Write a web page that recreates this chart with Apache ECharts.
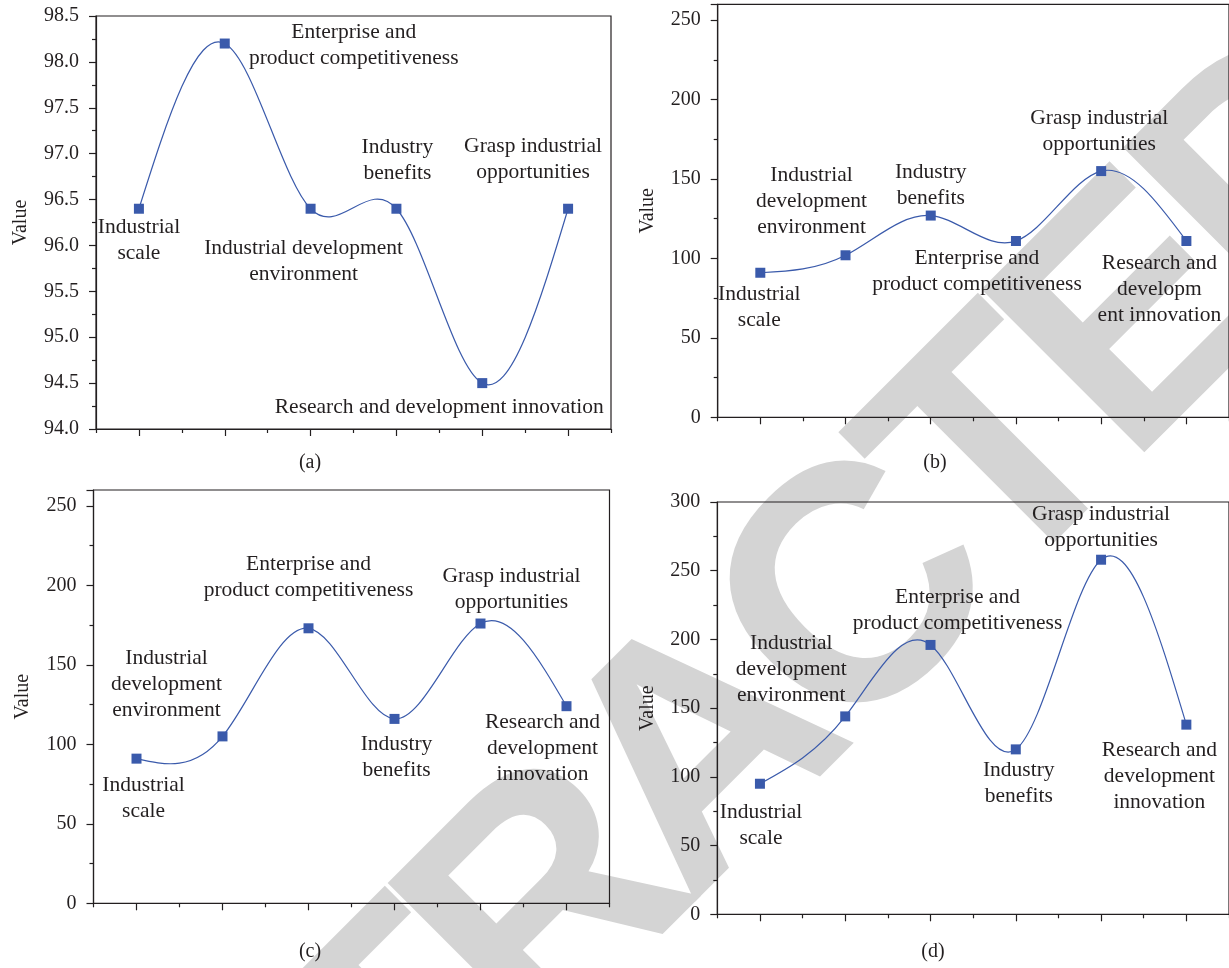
<!DOCTYPE html>
<html><head><meta charset="utf-8">
<script src="https://cdn.jsdelivr.net/npm/echarts@6/dist/echarts.min.js"></script>
<style>html,body{margin:0;padding:0;background:#fff}#c{width:1229px;height:968px}</style>
</head><body><div id="c"></div>
<script>
// ---------- data ----------
const catsA = ['Industrial scale','Enterprise and product competitiveness','Industrial development environment','Industry benefits','Research and development innovation','Grasp industrial opportunities'];
const valsA = [96.4, 98.2, 96.4, 96.4, 94.5, 96.4];
const textA = ['Industrial\nscale','Enterprise and\nproduct competitiveness','Industrial development\nenvironment','Industry\nbenefits','Research and development innovation','Grasp industrial\nopportunities'];
const yTicksA = [94.0, 94.5, 95.0, 95.5, 96.0, 96.5, 97.0, 97.5, 98.0, 98.5];

const catsB = ['Industrial scale','Industrial development environment','Industry benefits','Enterprise and product competitiveness','Grasp industrial opportunities','Research and development innovation'];
const valsB = [91, 102, 127, 111, 155, 111];
const textB = ['Industrial\nscale','Industrial\ndevelopment\nenvironment','Industry\nbenefits','Enterprise and\nproduct competitiveness','Grasp industrial\nopportunities','Research and\ndevelopm\nent innovation'];
const yTicksB = [0, 50, 100, 150, 200, 250];
const yMaxB = 260;

const catsC = ['Industrial scale','Industrial development environment','Enterprise and product competitiveness','Industry benefits','Grasp industrial opportunities','Research and development innovation'];
const valsC = [91, 105, 173, 116, 176, 124];
const textC = ['Industrial\nscale','Industrial\ndevelopment\nenvironment','Enterprise and\nproduct competitiveness','Industry\nbenefits','Grasp industrial\nopportunities','Research and\ndevelopment\ninnovation'];
const yTicksC = [0, 50, 100, 150, 200, 250];
const yMaxC = 260;

const catsD = ['Industrial scale','Industrial development environment','Enterprise and product competitiveness','Industry benefits','Grasp industrial opportunities','Research and development innovation'];
const valsD = [95, 144, 196, 120, 258, 138];
const textD = ['Industrial\nscale','Industrial\ndevelopment\nenvironment','Enterprise and\nproduct competitiveness','Industry\nbenefits','Grasp industrial\nopportunities','Research and\ndevelopment\ninnovation'];
const yTicksD = [0, 50, 100, 150, 200, 250, 300];

const captions = ['(a)', '(b)', '(c)', '(d)'];
const yName = 'Value';
const watermark = 'RETRACTED';

// ---------- styles / layout ----------
const INK = '#231f20';
const BLUE = '#3a5aab';
const SERIF = '"Liberation Serif", "Times New Roman", serif';

const panels = [
  { cats: catsA, vals: valsA, text: textA, ticks: yTicksA, max: yTicksA[yTicksA.length-1], dec: 1,
    grid: { left: 96, top: 16, width: 515, height: 413 }, nameGap: 65,
    offs: [[0,32],[129,2],[-7,53],[1,-48],[-43,24],[-35,-49]] },
  { cats: catsB, vals: valsB, text: textB, ticks: yTicksB, max: yMaxB, dec: 0,
    grid: { left: 717.7, top: 4.3, width: 515, height: 413 }, nameGap: 60,
    offs: [[-1,35],[-34,-54],[0,-30],[-39,30],[-2,-40],[-27,48]] },
  { cats: catsC, vals: valsC, text: textC, ticks: yTicksC, max: yMaxC, dec: 0,
    grid: { left: 93.5, top: 490, width: 516, height: 413.3 }, nameGap: 60.5,
    offs: [[7,40],[-56,-52],[0,-51],[2,38],[31,-34],[-24,42]] },
  { cats: catsD, vals: valsD, text: textD, ticks: yTicksD, max: yTicksD[yTicksD.length-1], dec: 0,
    grid: { left: 717.3, top: 502, width: 514, height: 412.3 }, nameGap: 60,
    offs: [[1,42],[-54,-47],[27,-35],[3,34],[0,-32],[-27,52]] }
];
const captionPos = [[310, 463], [935, 463], [310, 952], [933, 952]];

function splineRender(vals) {
  return function (params, api) {
    if (params.dataIndexInside !== 0) return null;
    const pts = vals.map((v, i) => api.coord([i, v]));
    const n = pts.length - 1;
    const h = pts[1][0] - pts[0][0];
    const M = new Array(n + 1).fill(0);
    const a = [], b = [], c = [], d = [];
    for (let i = 1; i < n; i++) {
      a.push(1); b.push(4); c.push(1);
      d.push(6 * (pts[i-1][1] - 2 * pts[i][1] + pts[i+1][1]) / (h * h));
    }
    const m = b.length;
    for (let i = 1; i < m; i++) { const w = a[i] / b[i-1]; b[i] -= w * c[i-1]; d[i] -= w * d[i-1]; }
    const sol = new Array(m);
    sol[m-1] = d[m-1] / b[m-1];
    for (let i = m - 2; i >= 0; i--) sol[i] = (d[i] - c[i] * sol[i+1]) / b[i];
    for (let i = 1; i < n; i++) M[i] = sol[i-1];
    let path = 'M' + pts[0][0] + ' ' + pts[0][1];
    for (let i = 0; i < n; i++) {
      const y0 = pts[i][1], y1 = pts[i+1][1];
      const m0 = (y1 - y0) / h - h * (2 * M[i] + M[i+1]) / 6;
      const m1 = (y1 - y0) / h + h * (M[i] + 2 * M[i+1]) / 6;
      path += ' C' + (pts[i][0] + h/3) + ' ' + (y0 + m0 * h/3) + ' ' +
              (pts[i+1][0] - h/3) + ' ' + (y1 - m1 * h/3) + ' ' + pts[i+1][0] + ' ' + y1;
    }
    return { type: 'path', silent: true, shape: { pathData: path },
             style: { fill: 'none', stroke: BLUE, lineWidth: 1.2 } };
  };
}

const grids = [], xAxes = [], yAxes = [], series = [];
panels.forEach((p, k) => {
  grids.push(Object.assign({ show: true, borderColor: INK, borderWidth: 1.2, containLabel: false }, p.grid));
  xAxes.push({ type: 'category', gridIndex: k, position: 'bottom', data: p.cats, boundaryGap: true,
    axisLine: { show: true, lineStyle: { color: INK, width: 1.2 } },
    axisTick: { show: true, alignWithLabel: true, interval: 0, length: 7, lineStyle: { color: INK, width: 1.2 } },
    axisLabel: { show: false }, splitLine: { show: false } });
  xAxes.push({ type: 'category', gridIndex: k, position: 'bottom', data: p.cats, boundaryGap: true,
    axisLine: { show: false },
    axisTick: { show: true, interval: 0, length: 4, lineStyle: { color: INK, width: 1.2 } },
    axisLabel: { show: false }, splitLine: { show: false } });
  yAxes.push({ type: 'value', gridIndex: k, position: 'left', min: p.ticks[0], max: p.max,
    interval: p.ticks[1] - p.ticks[0],
    name: yName, nameLocation: 'middle', nameGap: p.nameGap,
    nameTextStyle: { fontFamily: SERIF, fontSize: 20, color: INK },
    axisLine: { show: true, lineStyle: { color: INK, width: 1.2 } },
    axisTick: { show: true, length: 7, lineStyle: { color: INK, width: 1.2 } },
    minorTick: { show: true, splitNumber: 2, length: 4, lineStyle: { color: INK, width: 1.2 } },
    splitLine: { show: false }, minorSplitLine: { show: false },
    axisLabel: { show: true, margin: 17, fontFamily: SERIF, fontSize: 20, color: INK, showMaxLabel: p.max === p.ticks[p.ticks.length-1],
      formatter: v => (p.ticks.indexOf(v) >= 0 ? v.toFixed(p.dec) : '') } });
  series.push({ type: 'custom', xAxisIndex: 2*k, yAxisIndex: k, data: p.vals,
    renderItem: splineRender(p.vals), silent: true, z: 2 });
  series.push({ type: 'scatter', xAxisIndex: 2*k, yAxisIndex: k, symbol: 'rect', symbolSize: 10,
    itemStyle: { color: BLUE, opacity: 1 }, z: 3,
    label: { show: true, position: 'inside', align: 'center', verticalAlign: 'middle',
      fontFamily: SERIF, fontSize: 21.5, lineHeight: 26, color: INK, opacity: 1,
      formatter: prm => p.text[prm.dataIndex] },
    emphasis: { disabled: true },
    data: p.vals.map((v, i) => ({ value: v, label: { offset: p.offs[i] } })) });
});

// watermark letters placed along a 45-degree line (letter advance widths in em)
const adv = { R: 0.722, E: 0.667, T: 0.611, A: 0.722, C: 0.722, D: 0.722 };
const wmSize = 335, wmStep = 302, wmAng = 45 * Math.PI / 180;
const wmOrigin = [555, 911]; // anchor of the 4th letter
const ux = Math.cos(wmAng), uy = -Math.sin(wmAng);
const letters = watermark.split('');
const centres = []; let acc = 0;
letters.forEach((ch) => { centres.push(acc + adv[ch] / 2); acc += adv[ch]; });
const graphics = [];
letters.forEach((ch, i) => {
  const s = (centres[i] - centres[3]) * wmStep;
  graphics.push({ type: 'text', x: wmOrigin[0] + s * ux, y: wmOrigin[1] + s * uy, rotation: wmAng, z: -10, silent: true,
    style: { text: ch, fontFamily: '"Liberation Sans", Arial, sans-serif', fontWeight: 'bold',
             fontSize: wmSize, fill: '#d4d4d4', textAlign: 'center', textVerticalAlign: 'middle' } });
});
captions.forEach((t, i) => graphics.push({ type: 'text', x: captionPos[i][0], y: captionPos[i][1], z: 10,
  style: { text: t, fontFamily: SERIF, fontSize: 20, fill: INK, textAlign: 'center', textVerticalAlign: 'middle' } }));

const chart = echarts.init(document.getElementById('c'));
chart.setOption({
  animation: false, backgroundColor: '#fff',
  grid: grids, xAxis: xAxes, yAxis: yAxes, series: series, graphic: graphics
});
</script></body></html>
